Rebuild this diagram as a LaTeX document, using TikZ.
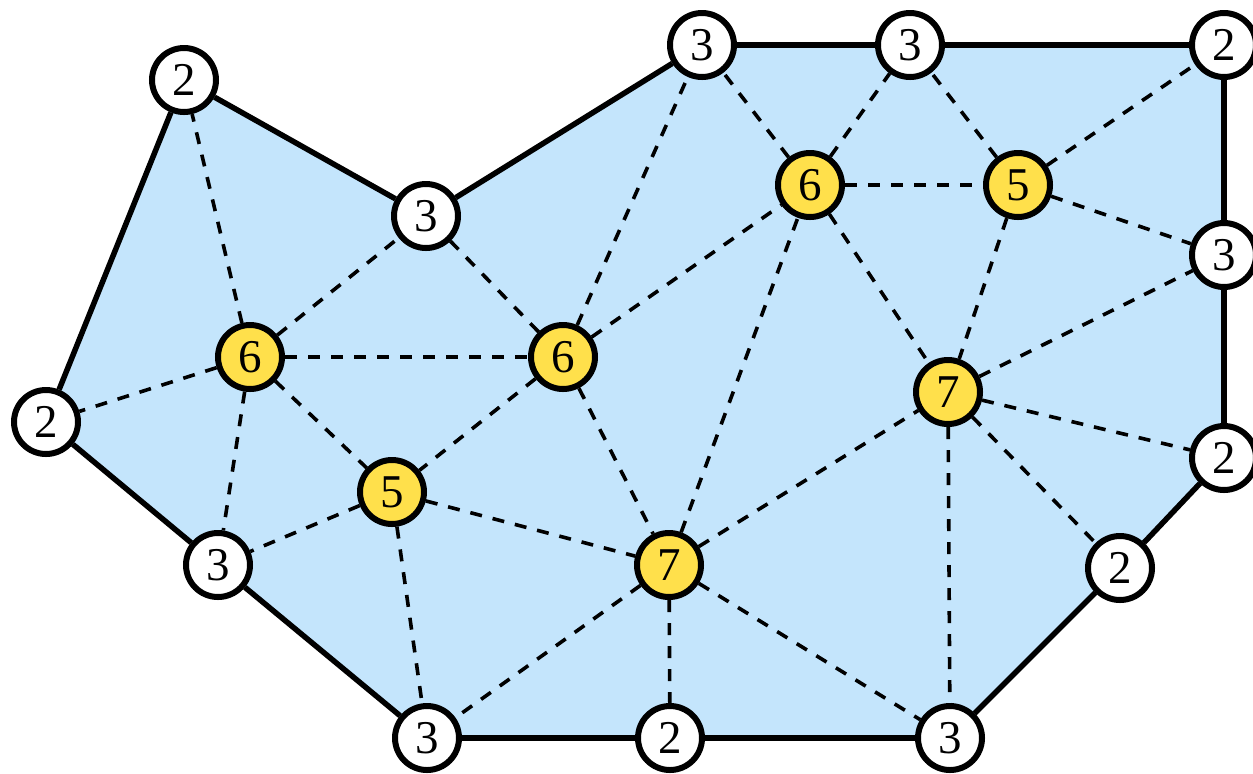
\documentclass[tikz,border=0pt]{standalone}
\usepackage{fontspec}
\setmainfont{Liberation Serif}
\usetikzlibrary{backgrounds}
\definecolor{regionblue}{RGB}{196,229,252}
\definecolor{nodeyellow}{RGB}{255,224,75}
\begin{document}
\begin{tikzpicture}[x=0.5pt,y=-0.5pt,
  vtx/.style={circle, draw=black, line width=3pt, minimum size=32pt, inner sep=0pt, font=\fontsize{23.5}{28}\selectfont},
  bnd/.style={vtx, fill=white},
  inr/.style={vtx, fill=nodeyellow},
  border/.style={line width=2.75pt, line join=round},
  tri/.style={line width=1.8pt, dash pattern=on 6pt off 5.5pt}]
\useasboundingbox (0,0) rectangle (1253,773);
% boundary vertices
\node[bnd] (A) at (184,80) {2};
\node[bnd] (B) at (426,216) {3};
\node[bnd] (C) at (702,45) {3};
\node[bnd] (D) at (910,45) {3};
\node[bnd] (E) at (1224,45) {2};
\node[bnd] (F) at (1224,255) {3};
\node[bnd] (G) at (1224,458) {2};
\node[bnd] (H) at (1120,568) {2};
\node[bnd] (I) at (950,738) {3};
\node[bnd] (J) at (670,738) {2};
\node[bnd] (K) at (427,738) {3};
\node[bnd] (L) at (218,565) {3};
\node[bnd] (M) at (46,422) {2};
% interior vertices
\node[inr] (P1) at (250,357) {6};
\node[inr] (P2) at (563,357) {6};
\node[inr] (P3) at (392,492) {5};
\node[inr] (P4) at (669,565) {7};
\node[inr] (P5) at (810,185) {6};
\node[inr] (P6) at (1018,185) {5};
\node[inr] (P7) at (948,392) {7};
\begin{pgfonlayer}{background}
\fill[regionblue] (A.center) -- (B.center) -- (C.center) -- (D.center) -- (E.center) -- (F.center) -- (G.center) -- (H.center) -- (I.center) -- (J.center) -- (K.center) -- (L.center) -- (M.center) -- cycle;
\draw[border] (A) -- (B);
\draw[border] (B) -- (C);
\draw[border] (C) -- (D);
\draw[border] (D) -- (E);
\draw[border] (E) -- (F);
\draw[border] (F) -- (G);
\draw[border] (G) -- (H);
\draw[border] (H) -- (I);
\draw[border] (I) -- (J);
\draw[border] (J) -- (K);
\draw[border] (K) -- (L);
\draw[border] (L) -- (M);
\draw[border] (M) -- (A);
\draw[tri] (P1) -- (A);
\draw[tri] (P1) -- (B);
\draw[tri] (P1) -- (P2);
\draw[tri] (P1) -- (M);
\draw[tri] (P1) -- (L);
\draw[tri] (P1) -- (P3);
\draw[tri] (P2) -- (B);
\draw[tri] (P2) -- (C);
\draw[tri] (P2) -- (P5);
\draw[tri] (P2) -- (P3);
\draw[tri] (P2) -- (P4);
\draw[tri] (P3) -- (L);
\draw[tri] (P3) -- (K);
\draw[tri] (P3) -- (P4);
\draw[tri] (P4) -- (P5);
\draw[tri] (P4) -- (P7);
\draw[tri] (P4) -- (K);
\draw[tri] (P4) -- (J);
\draw[tri] (P4) -- (I);
\draw[tri] (P5) -- (C);
\draw[tri] (P5) -- (D);
\draw[tri] (P5) -- (P6);
\draw[tri] (P5) -- (P7);
\draw[tri] (P6) -- (D);
\draw[tri] (P6) -- (E);
\draw[tri] (P6) -- (F);
\draw[tri] (P6) -- (P7);
\draw[tri] (P7) -- (F);
\draw[tri] (P7) -- (G);
\draw[tri] (P7) -- (H);
\draw[tri] (P7) -- (I);
\end{pgfonlayer}
\end{tikzpicture}
\end{document}
